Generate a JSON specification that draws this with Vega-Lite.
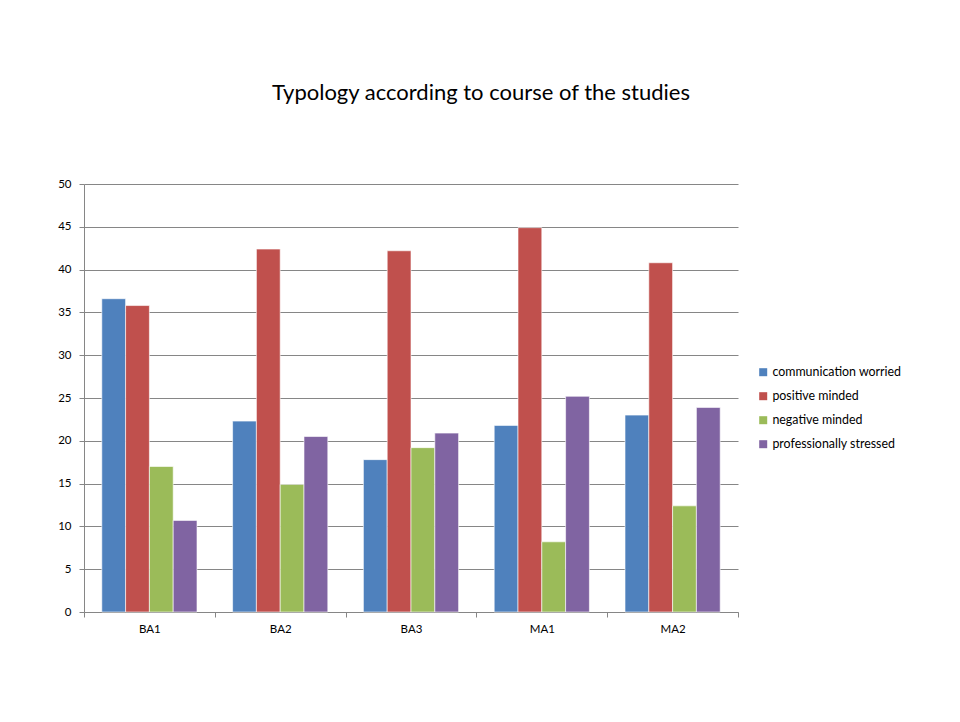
{
  "$schema": "https://vega.github.io/schema/vega-lite/v6.json",
  "width": 654,
  "height": 428,
  "autosize": {"type": "none"},
  "padding": {"left": 84, "top": 184, "right": 222, "bottom": 110},
  "background": "white",
  "title": {
    "text": "Typology according to course of the studies",
    "font": "Lato",
    "fontSize": 22,
    "fontWeight": "normal",
    "color": "#000000",
    "anchor": "middle",
    "dx": 70,
    "offset": 73
  },
  "data": {
    "values": [
      {"course": "BA1", "type": "communication worried", "value": 36.6},
      {"course": "BA1", "type": "positive minded", "value": 35.8},
      {"course": "BA1", "type": "negative minded", "value": 17.0},
      {"course": "BA1", "type": "professionally stressed", "value": 10.7},
      {"course": "BA2", "type": "communication worried", "value": 22.3},
      {"course": "BA2", "type": "positive minded", "value": 42.4},
      {"course": "BA2", "type": "negative minded", "value": 14.9},
      {"course": "BA2", "type": "professionally stressed", "value": 20.5},
      {"course": "BA3", "type": "communication worried", "value": 17.8},
      {"course": "BA3", "type": "positive minded", "value": 42.2},
      {"course": "BA3", "type": "negative minded", "value": 19.2},
      {"course": "BA3", "type": "professionally stressed", "value": 20.9},
      {"course": "MA1", "type": "communication worried", "value": 21.8},
      {"course": "MA1", "type": "positive minded", "value": 44.9},
      {"course": "MA1", "type": "negative minded", "value": 8.2},
      {"course": "MA1", "type": "professionally stressed", "value": 25.2},
      {"course": "MA2", "type": "communication worried", "value": 23.0},
      {"course": "MA2", "type": "positive minded", "value": 40.8},
      {"course": "MA2", "type": "negative minded", "value": 12.4},
      {"course": "MA2", "type": "professionally stressed", "value": 23.9}
    ]
  },
  "mark": {"type": "bar", "stroke": "#ffffff", "strokeOpacity": 0.6, "strokeWidth": 1},
  "encoding": {
    "x": {
      "field": "course",
      "type": "nominal",
      "sort": null,
      "scale": {"paddingInner": 0, "paddingOuter": 0},
      "axis": {
        "title": null,
        "labelAngle": 0,
        "labelFont": "Lato",
        "labelFontSize": 11.5,
        "labelColor": "#000000",
        "labelPadding": 6,
        "tickBand": "extent",
        "tickSize": 5,
        "tickColor": "#868686",
        "domainColor": "#868686",
        "grid": false
      }
    },
    "xOffset": {
      "field": "type",
      "type": "nominal",
      "sort": ["communication worried", "positive minded", "negative minded", "professionally stressed"],
      "scale": {"paddingInner": 0, "paddingOuter": 0.748}
    },
    "y": {
      "field": "value",
      "type": "quantitative",
      "scale": {"domain": [0, 50], "nice": false},
      "axis": {
        "title": null,
        "values": [0, 5, 10, 15, 20, 25, 30, 35, 40, 45, 50],
        "labelFont": "Lato",
        "labelFontSize": 11.5,
        "labelColor": "#000000",
        "labelPadding": 8,
        "tickSize": 5,
        "tickColor": "#868686",
        "domainColor": "#868686",
        "grid": true,
        "gridColor": "#868686",
        "gridOpacity": 1
      }
    },
    "color": {
      "field": "type",
      "type": "nominal",
      "sort": ["communication worried", "positive minded", "negative minded", "professionally stressed"],
      "scale": {
        "domain": ["communication worried", "positive minded", "negative minded", "professionally stressed"],
        "range": ["#4F81BD", "#C0504D", "#9BBB59", "#8064A2"]
      },
      "legend": {
        "title": null,
        "orient": "none",
        "legendX": 673,
        "legendY": 182,
        "symbolType": "square",
        "symbolSize": 64,
        "symbolStrokeWidth": 0,
        "labelFont": "Lato",
        "labelFontSize": 12.4,
        "labelColor": "#000000",
        "labelOffset": 3,
        "rowPadding": 11
      }
    }
  },
  "config": {
    "view": {"stroke": null},
    "axis": {"domainWidth": 1, "tickWidth": 1, "gridWidth": 1}
  }
}
